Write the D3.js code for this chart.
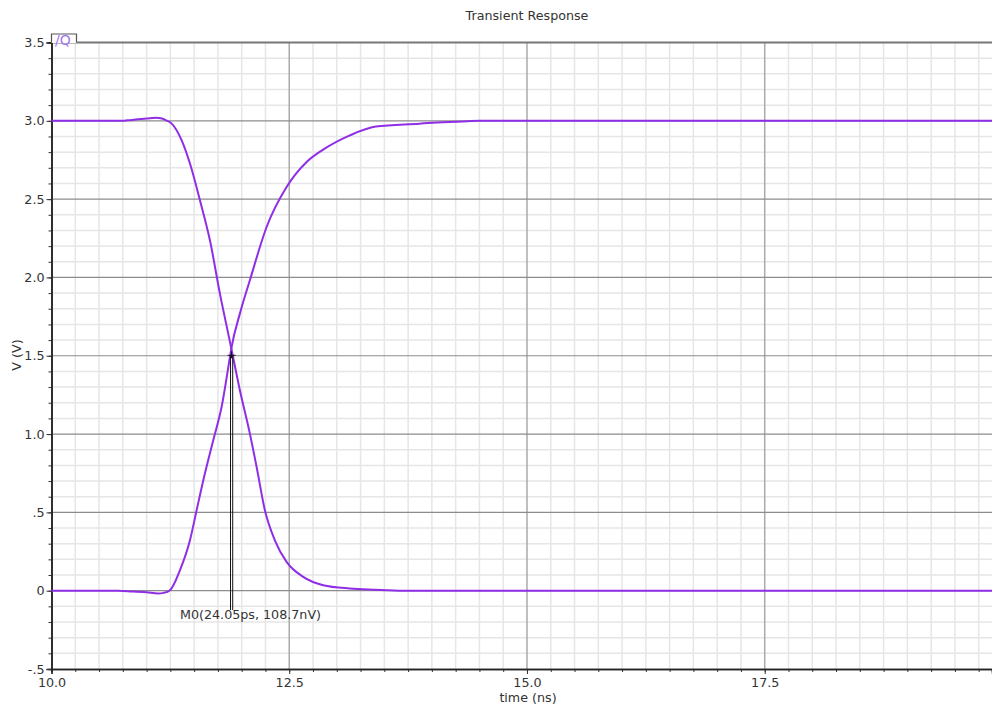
<!DOCTYPE html>
<html>
<head>
    <script src="https://d3js.org/d3.v7.min.js" charset="utf-8"></script>
    <style>
        body { margin: 0; background: white; }
        text { font-family: "DejaVu Sans", sans-serif; }
    </style>
</head>
<body>
   <script>
        // data
        var xTicks = [10.0, 12.5, 15.0, 17.5];
        var xTickLabels = ["10.0", "12.5", "15.0", "17.5"];
        var yTicks = [-0.5, 0, 0.5, 1.0, 1.5, 2.0, 2.5, 3.0, 3.5];
        var yTickLabels = ["-.5", "0", ".5", "1.0", "1.5", "2.0", "2.5", "3.0", "3.5"];

        // falling output (/Q)
        var tFall = [10.0, 10.75, 10.8, 11.0, 11.1, 11.15, 11.2, 11.264, 11.369, 11.456, 11.561, 11.666,
                     11.771, 11.876, 11.894, 11.981, 12.086, 12.157, 12.244, 12.349, 12.472, 12.647,
                     12.857, 13.138, 13.4, 13.7, 19.9];
        var vFall = [3.0, 3.0, 3.003, 3.015, 3.02, 3.017, 3.005, 2.982, 2.875, 2.727, 2.493, 2.237,
                     1.897, 1.59, 1.537, 1.28, 1.003, 0.79, 0.514, 0.322, 0.184, 0.088,
                     0.035, 0.014, 0.006, 0.0, 0.0];
        // rising output
        var tRise = [10.0, 10.7, 10.85, 11.0, 11.12, 11.18, 11.246, 11.351, 11.456, 11.526, 11.613,
                     11.701, 11.789, 11.876, 11.894, 11.981, 12.086, 12.262, 12.472, 12.683, 12.857,
                     13.138, 13.41, 13.87, 14.01, 14.37, 14.5, 19.9];
        var vRise = [0, 0, -0.005, -0.01, -0.018, -0.014, 0.003, 0.131, 0.322, 0.514, 0.748,
                     0.961, 1.174, 1.49, 1.556, 1.769, 1.982, 2.322, 2.577, 2.737, 2.816,
                     2.907, 2.963, 2.982, 2.988, 2.997, 3.0, 3.0];

        var markerT = 11.893, markerV = 1.503;
        var markerLabel = "M0(24.05ps, 108.7nV)";

        var W = 992, H = 706;
        var pLeft = 51.5, pRight = 992, pTop = 42.5, pBottom = 669;
        var fs = "12.7px";

        var svg = d3.select("body")
            .append("svg")
            .attr("width", W)
            .attr("height", H)
            .style("display", "block")
            .style("background", "white");

        var x = d3.scaleLinear().domain([10, 19.89]).range([pLeft, pRight]);
        var y = d3.scaleLinear().domain([-0.5, 3.5]).range([pBottom, pTop]);

        var minorX = d3.range(10, 19.9, 0.25).map(function (d) { return +d.toFixed(2); });
        var minorY = d3.range(-0.5, 3.51, 0.1).map(function (d) { return +d.toFixed(1); });

        // minor grid
        var grid = svg.append("g");
        grid.selectAll("line.mx")
            .data(minorX.filter(function (d) { return d > 10 && xTicks.indexOf(d) < 0; }))
            .enter().append("line")
            .attr("x1", function (d) { return x(d); })
            .attr("x2", function (d) { return x(d); })
            .attr("y1", pTop).attr("y2", pBottom)
            .style("stroke", "#e6e6e6").style("stroke-width", 1.5);
        grid.selectAll("line.my")
            .data(minorY.filter(function (d) { return d > -0.5 && d < 3.5 && Math.abs(d * 2 - Math.round(d * 2)) > 0.01; }))
            .enter().append("line")
            .attr("x1", pLeft).attr("x2", pRight)
            .attr("y1", function (d) { return y(d); })
            .attr("y2", function (d) { return y(d); })
            .style("stroke", "#e6e6e6").style("stroke-width", 1.5);

        // major grid
        grid.selectAll("line.Mx")
            .data(xTicks.slice(1))
            .enter().append("line")
            .attr("x1", function (d) { return x(d); })
            .attr("x2", function (d) { return x(d); })
            .attr("y1", pTop).attr("y2", pBottom)
            .style("stroke", "#aaa").style("stroke-width", 1.5);
        grid.selectAll("line.My")
            .data(yTicks.slice(1, -1))
            .enter().append("line")
            .attr("x1", pLeft).attr("x2", pRight)
            .attr("y1", function (d) { return y(d); })
            .attr("y2", function (d) { return y(d); })
            .style("stroke", "#8c8c8c").style("stroke-width", 1.2);

        // top border
        svg.append("line")
            .attr("x1", pLeft).attr("x2", pRight)
            .attr("y1", pTop).attr("y2", pTop)
            .style("stroke", "#777").style("stroke-width", 2);

        // axes
        var xMinorAxis = d3.axisBottom(x).tickValues(minorX).tickSize(3).tickFormat("");
        var xAxis = d3.axisBottom(x).tickValues(xTicks).tickSize(5).tickPadding(4)
            .tickFormat(function (d, i) { return xTickLabels[i]; });
        var yMinorAxis = d3.axisLeft(y).tickValues(minorY).tickSize(3).tickFormat("");
        var yAxis = d3.axisLeft(y).tickValues(yTicks).tickSize(5).tickPadding(2)
            .tickFormat(function (d, i) { return yTickLabels[i]; });

        function styleAxis(g) {
            g.select(".domain").style("stroke", "#222").style("stroke-width", 1.5);
            g.selectAll(".tick line").style("stroke", "#333");
            g.selectAll("text").style("font-family", "DejaVu Sans").style("font-size", fs).style("fill", "#333");
        }
        svg.append("g").attr("transform", "translate(0," + pBottom + ")").call(xMinorAxis).call(styleAxis);
        svg.append("g").attr("transform", "translate(0," + pBottom + ")").call(xAxis).call(styleAxis);
        svg.append("g").attr("transform", "translate(" + pLeft + ",0)").call(yMinorAxis).call(styleAxis);
        svg.append("g").attr("transform", "translate(" + pLeft + ",0)").call(yAxis).call(styleAxis);

        // curves
        var line = d3.line()
            .x(function (d) { return x(d[0]); })
            .y(function (d) { return y(d[1]); })
            .curve(d3.curveMonotoneX);
        var series = [d3.zip(tFall, vFall), d3.zip(tRise, vRise)];
        svg.append("g").selectAll("path")
            .data(series)
            .enter().append("path")
            .attr("d", line)
            .style("fill", "none")
            .style("stroke", "#8f2ee6")
            .style("stroke-width", 2)
            .style("stroke-linejoin", "round");

        // marker
        var mx = x(markerT), my = y(markerV);
        var mk = svg.append("g").style("stroke", "#111").style("stroke-width", 1);
        mk.append("line").attr("x1", mx - 1).attr("x2", mx - 1).attr("y1", my).attr("y2", 610);
        mk.append("line").attr("x1", mx + 1.2).attr("x2", mx + 1.2).attr("y1", my).attr("y2", 610);
        mk.append("line").attr("x1", mx - 4).attr("x2", mx + 4).attr("y1", my).attr("y2", my);
        mk.append("line").attr("x1", mx).attr("x2", mx).attr("y1", my - 4).attr("y2", my + 3);
        svg.append("text")
            .attr("x", 180).attr("y", 619)
            .style("font-size", fs).style("fill", "#333")
            .text(markerLabel);

        // legend tab
        svg.append("rect")
            .attr("x", pLeft).attr("y", 34).attr("width", 25).attr("height", 9)
            .style("fill", "white");
        svg.append("path")
            .attr("d", "M" + pLeft + "," + pTop + "V34H76.5V" + pTop)
            .style("fill", "none").style("stroke", "#555").style("stroke-width", 1.2);
        svg.append("text")
            .attr("x", 55).attr("y", 45)
            .style("font-size", "14px").style("fill", "#a274ea")
            .text("/Q");

        // titles
        svg.append("text")
            .attr("x", 527).attr("y", 20)
            .attr("text-anchor", "middle")
            .style("font-size", fs).style("fill", "#333")
            .text("Transient Response");
        svg.append("text")
            .attr("x", 528).attr("y", 702)
            .attr("text-anchor", "middle")
            .style("font-size", fs).style("fill", "#333")
            .text("time (ns)");
        svg.append("text")
            .attr("transform", "translate(21,355) rotate(-90)")
            .attr("text-anchor", "middle")
            .style("font-size", fs).style("fill", "#333")
            .text("V (V)");
    </script>
</body>
</html>
